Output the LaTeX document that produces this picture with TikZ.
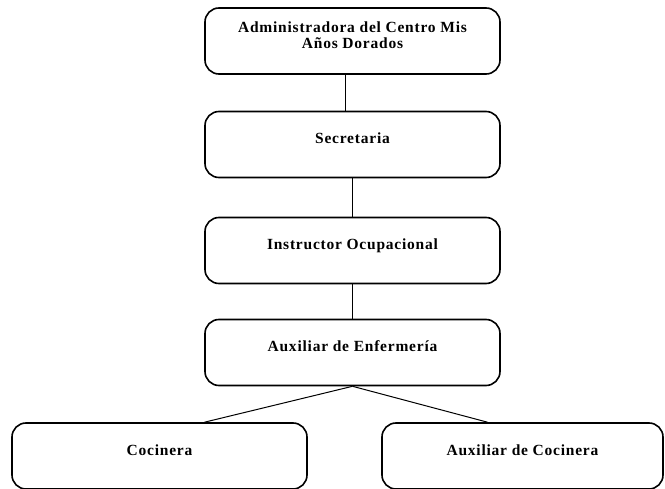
\documentclass[tikz,border=0pt]{standalone}
\usepackage{fontspec}
\setmainfont{Liberation Serif}[LetterSpace=5]
\usetikzlibrary{calc}

\begin{document}
\begin{tikzpicture}[x=1pt,y=-1pt,
    puesto/.style={draw,rounded corners=14pt,line width=1.6pt,
      minimum width=295pt,minimum height=66pt,align=center,
      font=\fontsize{15.5}{16.5}\selectfont\bfseries,
      text height=9pt,text depth=10pt},
    linea/.style={line width=1pt}]
    \useasboundingbox (0,0) rectangle (665,489);
    \clip (0,0) rectangle (665,489);
    \node[puesto,text height=26pt] (adm) at (352.5,41) {Administradora del Centro Mis\\Años Dorados};
    \node[puesto] (sec) at (352.5,144.5) {Secretaria};
    \node[puesto] (ins) at (352.5,250.5) {Instructor Ocupacional};
    \node[puesto] (aux) at (352.5,352.5) {Auxiliar de Enfermería};
    \node[puesto,minimum width=295pt] (coc) at (159.5,456) {Cocinera};
    \node[puesto,minimum width=281pt] (auxc) at (522.5,456) {Auxiliar de Cocinera};
    \draw[linea] ([xshift=-7pt]adm.south) -- ([xshift=-7pt]sec.north);
    \draw[linea] (sec.south) -- (ins.north);
    \draw[linea] (ins.south) -- (aux.north);
    \draw[linea] (aux.south) -- ([xshift=45pt]coc.north);
    \draw[linea] (aux.south) -- ([xshift=-35pt]auxc.north);
\end{tikzpicture}
\end{document}
